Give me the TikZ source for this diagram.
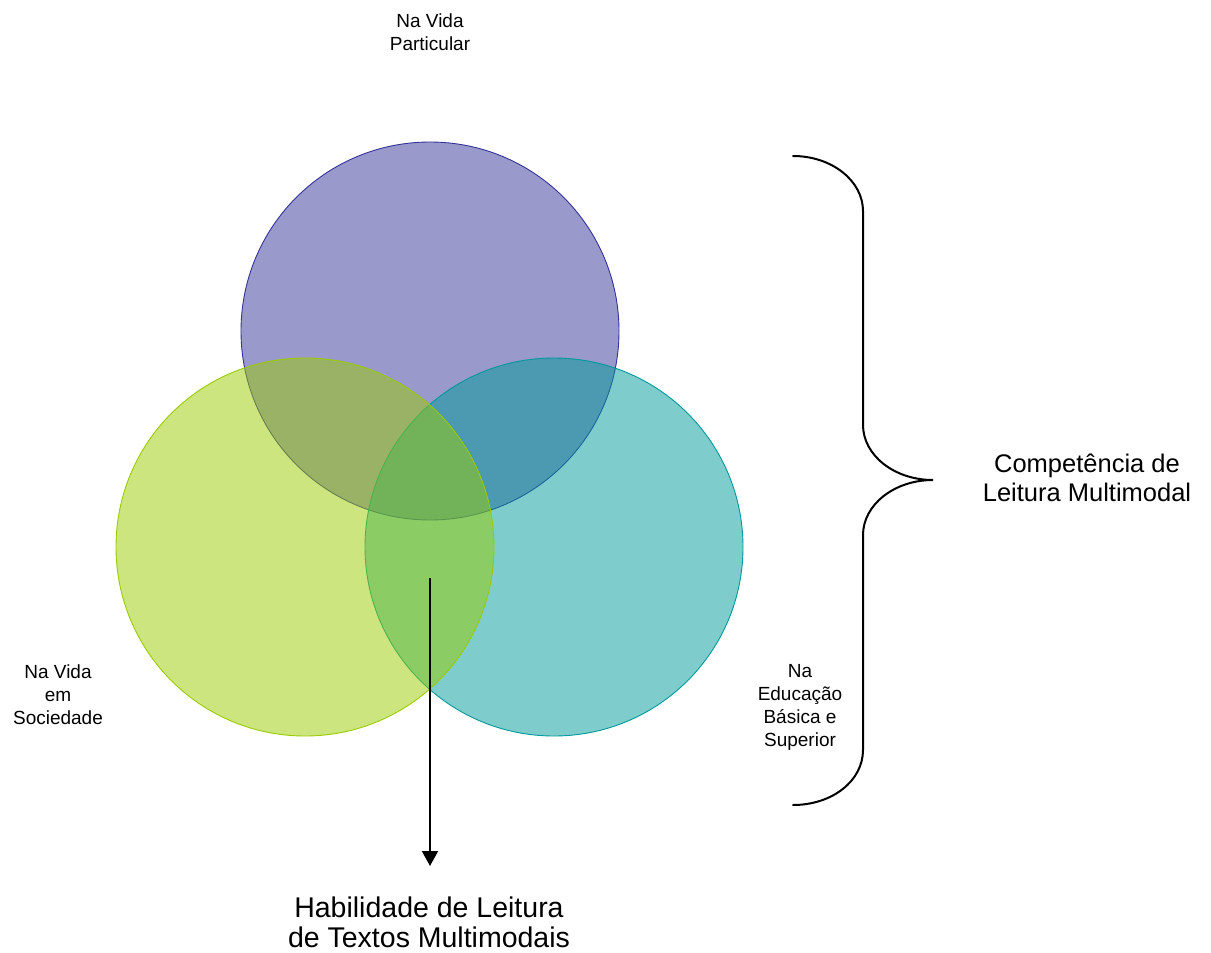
\documentclass[tikz,border=0pt]{standalone}
\usepackage{fontspec}
\setmainfont{Liberation Sans}
\usetikzlibrary{arrows.meta}
\definecolor{purpleC}{RGB}{51,51,153}
\definecolor{tealC}{RGB}{0,153,153}
\definecolor{greenC}{RGB}{153,204,0}
\tikzset{
  venn/.style={circle, minimum size=378pt, inner sep=0pt, line width=0.9pt, fill opacity=0.5},
  smalltxt/.style={align=center, inner sep=0pt, font=\fontsize{19}{23}\selectfont},
  bigtxt/.style={align=center, inner sep=0pt, font=\fontsize{25.5}{29}\selectfont},
  hugetxt/.style={align=center, inner sep=0pt, font=\fontsize{28.5}{30}\selectfont},
  bracestyle/.style={line width=2pt, line cap=round},
  arrowstyle/.style={line width=2pt, -{Triangle[width=16pt,length=15pt]}}
}
\begin{document}
\begin{tikzpicture}[x=1pt,y=-1pt]
\useasboundingbox (0,0) rectangle (1211,953);
% circles (order: purple, teal, green)
\node[venn, draw=purpleC, fill=purpleC] (top) at (430,331) {};
\node[venn, draw=tealC, fill=tealC] (right) at (554,547) {};
\node[venn, draw=greenC, fill=greenC] (left) at (305,547) {};
% labels
\node[smalltxt] (lpart) at (430,32) {Na Vida\\Particular};
\node[smalltxt] (lsoc) at (58,695) {Na Vida\\em\\Sociedade};
\node[smalltxt] (ledu) at (800,707) {Na\\Educação\\Básica e\\Superior};
\node[bigtxt] (comp) at (1087,478) {Competência de\\Leitura Multimodal};
\node[hugetxt] (hab) at (429,922) {Habilidade de Leitura\\de Textos Multimodais};
% brace
\coordinate (btop) at (793,156);
\coordinate (btip) at (933,480);
\coordinate (bbot) at (793,805);
\draw[bracestyle] (btop) .. controls (832,156) and (863,181) .. (863,211)
  -- (863,425) .. controls (863,455) and (894,480) .. (btip)
  .. controls (894,480) and (863,505) .. (863,535)
  -- (863,750) .. controls (863,781) and (832,805) .. (bbot);
% arrow
\coordinate (as) at (430,578);
\coordinate (ae) at (430,866);
\draw[arrowstyle] (as) -- (ae);
\end{tikzpicture}
\end{document}
